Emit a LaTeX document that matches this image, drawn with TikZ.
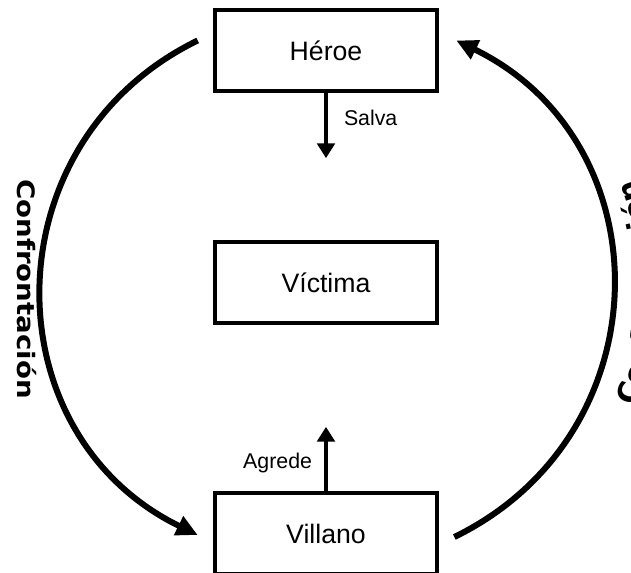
\documentclass[tikz,border=0pt]{standalone}
\usepackage{fontspec}
\usepackage{xcolor}
\usepackage{graphicx}
\setmainfont{Liberation Sans}
\newfontfamily\sidefont{DejaVu Sans Bold}
\usetikzlibrary{arrows.meta,calc,decorations.text}
\definecolor{bgColor}{HTML}{ffffff}
\definecolor{fgColor}{HTML}{000000}
\newcommand\sidelabel{\sidefont\fontsize{18}{20}\selectfont}

\begin{document}
\begin{tikzpicture}[x=0.75pt,y=0.75pt,yscale=-1,
		rolebox/.style={draw=fgColor, line width=3pt, minimum width=167pt, minimum height=61pt, font=\fontsize{20}{24}\selectfont},
		push/.style={fgColor, line width=3pt, -{Triangle[length=11pt,width=13pt]}},
		cycle arc/.style={fgColor, line width=4.5pt, -{Triangle[length=16pt,width=15pt]}},
		verb/.style={text=fgColor, inner sep=0pt, font=\fontsize{16}{19}\selectfont},
		sidetext/.style={text=fgColor, inner sep=0pt, font=\sidelabel}]
		\useasboundingbox (0,0) rectangle (631,573);
		\clip (0,0) rectangle (631,573);
		\fill [bgColor] (0,0) rectangle (631,573);

		% Boxes
		\node [rolebox] (heroe)   at (326,50.5)  {Héroe};
		\node [rolebox] (victima) at (326,282.5) {Víctima};
		\node [rolebox] (villano) at (326,533.5) {Villano};

		% Arrow ends
		\coordinate (salva)  at ($(heroe.south)+(0,65)$);
		\coordinate (agrede) at ($(villano.north)+(0,-64)$);

		% Straight Arrows
		\draw [push] (heroe.south) -- (salva) node [verb, pos=0.385, right=12pt] {Salva};
		\draw [push] (villano.north) -- (agrede) node [verb, pos=0.44, left=9pt] {Agrede};

		% Curved Arrows
		\draw [cycle arc] ($(heroe.west)+(-15,-10)$) to [out=154, in=206, looseness=1.2] ($(villano.west)+(-15,1.5)$);
		\draw [cycle arc] ($(villano.east)+(15,3.5)$) to [out=-26, in=26, looseness=1.2] ($(heroe.east)+(17,-10)$);

		% Side Labels
		\node [sidetext, rotate=-90] (confrontacion) at (27,289) {\scalebox{1.15}[1]{Confrontación}};
		\path [decorate, decoration={text along path, text align=center, text={|\sidefont\fontsize{22}{24}\selectfont|Confrontación}}]
			($(victima.center)+(0,10)+(34:330)$) arc [start angle=34, end angle=-34, radius=330];
	\end{tikzpicture}
\end{document}
